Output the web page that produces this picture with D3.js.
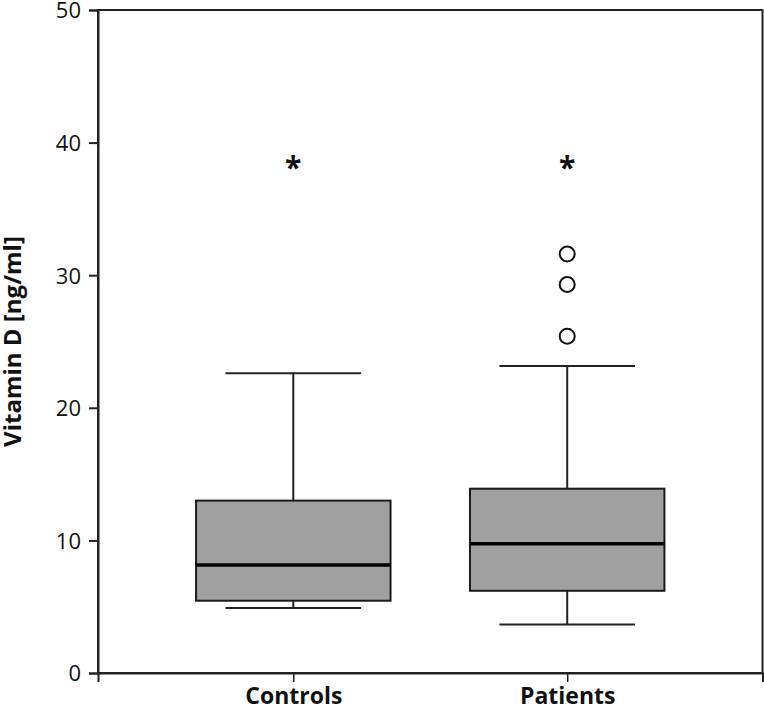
<!DOCTYPE html>
<html><head><meta charset="utf-8">
<script src="https://cdn.jsdelivr.net/npm/d3@7"></script>
<style>body{margin:0;background:#fff}svg{display:block}text{font-family:"Open Sans","Noto Sans",sans-serif;fill:#111}</style>
</head><body>
<script>
const categories = ["Controls", "Patients"];
const q1 = [5.45, 6.2];
const median = [8.15, 9.75];
const q3 = [13.0, 13.9];
const whiskerLow = [4.9, 3.65];
const whiskerHigh = [22.6, 23.15];
const outliers = [[], [25.4, 29.3, 31.6]];
const starValue = [38.3, 38.3];
const yTicks = [0, 10, 20, 30, 40, 50];

const W = 764, H = 707;
const m = {left: 98, right: 1.5, top: 10, bottom: 34};
const svg = d3.select("body").append("svg").attr("width", W).attr("height", H);
const x = d3.scalePoint().domain(categories).range([m.left, W - m.right]).padding(0.713);
const y = d3.scaleLinear().domain([0, 50]).range([H - m.bottom, m.top]);
const step = x.step();
const boxW = step * 0.71, capW = step * 0.495;

// frame
svg.append("rect").attr("x", m.left).attr("y", m.top).attr("width", W - m.right - m.left).attr("height", y(0) - m.top)
  .attr("fill", "none").attr("stroke", "#222").attr("stroke-width", 2);

const ga = svg.append("g").attr("transform", `translate(${m.left},0)`)
  .call(d3.axisLeft(y).tickValues(yTicks).tickSize(9).tickPadding(8));
ga.select(".domain").attr("stroke", "#222").attr("stroke-width", 2);
ga.selectAll(".tick line").attr("stroke", "#222").attr("stroke-width", 2);
ga.selectAll(".tick text").attr("font-size", 22).attr("dy", "0.36em").style("fill", "#111");

const gx = svg.append("g").attr("transform", `translate(0,${y(0)})`)
  .call(d3.axisBottom(x).tickSize(9).tickPadding(7));
gx.select(".domain").attr("stroke", "#222").attr("stroke-width", 2);
gx.selectAll(".tick line").attr("stroke", "#222").attr("stroke-width", 1.5);
gx.selectAll(".tick text").attr("font-size", 23).attr("font-weight", "bold").attr("y", 30.5).attr("dy", null).style("fill", "#111");

svg.append("text").attr("transform", `translate(21,${(m.top + y(0)) / 2}) rotate(-90)`)
  .attr("text-anchor", "middle").attr("font-size", 24).attr("font-weight", "bold").text("Vitamin D [ng/ml]");

categories.forEach((c, i) => {
  const cx = x(c);
  const g = svg.append("g");
  g.append("line").attr("x1", cx).attr("x2", cx).attr("y1", y(whiskerHigh[i])).attr("y2", y(q3[i])).attr("stroke", "#222").attr("stroke-width", 2);
  g.append("line").attr("x1", cx).attr("x2", cx).attr("y1", y(q1[i])).attr("y2", y(whiskerLow[i])).attr("stroke", "#222").attr("stroke-width", 2);
  [whiskerHigh[i], whiskerLow[i]].forEach(v => g.append("line").attr("x1", cx - capW / 2).attr("x2", cx + capW / 2)
    .attr("y1", y(v)).attr("y2", y(v)).attr("stroke", "#222").attr("stroke-width", 2));
  g.append("rect").attr("x", cx - boxW / 2).attr("width", boxW).attr("y", y(q3[i])).attr("height", y(q1[i]) - y(q3[i]))
    .attr("fill", "#a0a0a0").attr("stroke", "#1a1a1a").attr("stroke-width", 2);
  g.append("line").attr("x1", cx - boxW / 2).attr("x2", cx + boxW / 2).attr("y1", y(median[i])).attr("y2", y(median[i]))
    .attr("stroke", "#000").attr("stroke-width", 3.5);
  outliers[i].forEach(v => g.append("circle").attr("cx", cx).attr("cy", y(v)).attr("r", 7.5)
    .attr("fill", "#fff").attr("stroke", "#111").attr("stroke-width", 2));
  g.append("text").attr("x", cx).attr("y", y(starValue[i]) + 13).attr("text-anchor", "middle")
    .attr("font-size", 30).attr("font-weight", "bold").text("*");
});
</script>
</body></html>
